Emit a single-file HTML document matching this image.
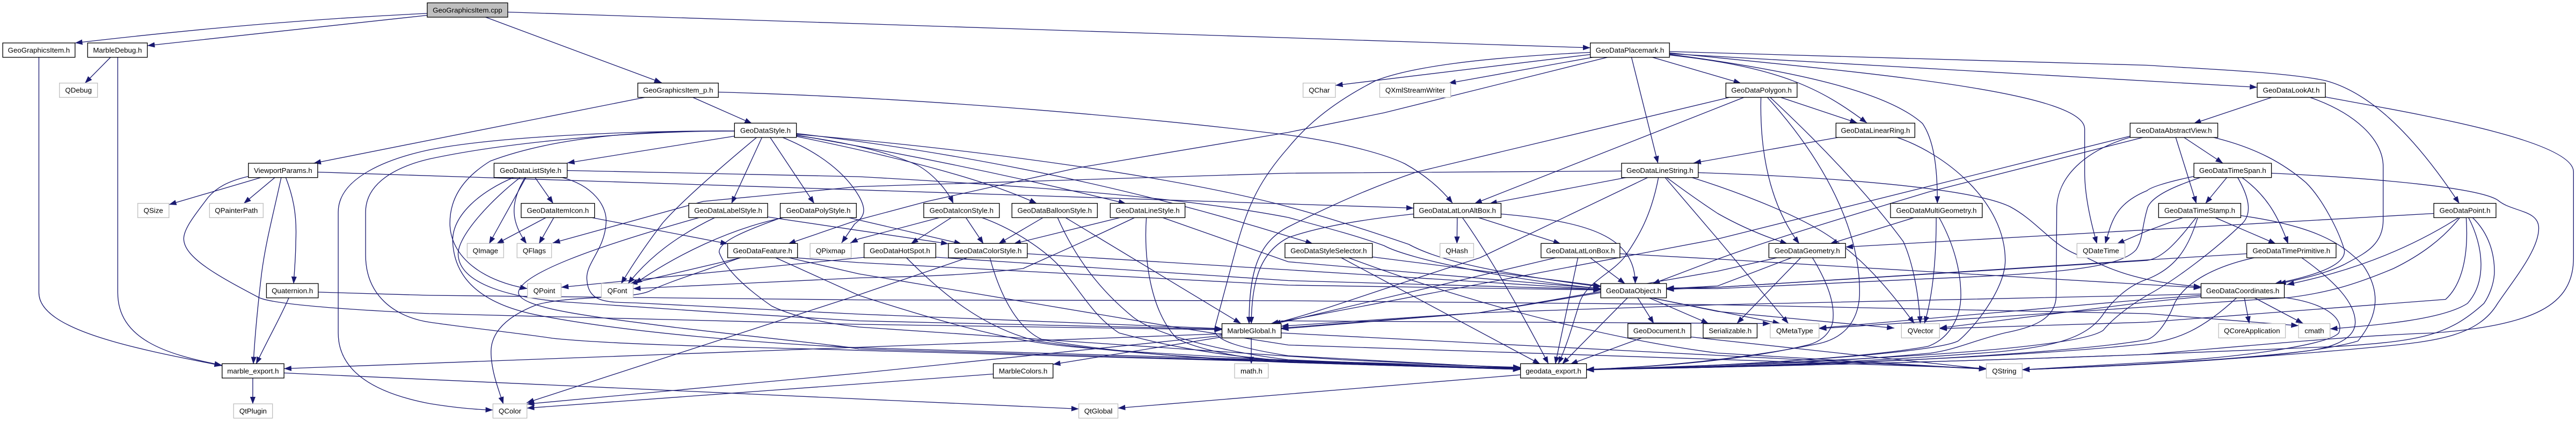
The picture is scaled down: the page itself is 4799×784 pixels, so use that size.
<!DOCTYPE html>
<html><head><meta charset="utf-8"><style>
html,body{margin:0;padding:0;background:#fff}
svg{display:block}
.e path{fill:none;stroke:#191970;stroke-width:2.6}
.n rect{fill:#fff;stroke:#000;stroke-width:2.6}
.n rect.g{stroke:#bfbfbf}
.n rect.c{fill:#bfbfbf}
text{font-family:"Liberation Sans",sans-serif;font-size:13.33px;text-anchor:middle;fill:#000}
</style></head><body>
<svg xmlns="http://www.w3.org/2000/svg" width="4799" height="784" viewBox="0 0 4799 784">
<defs><marker id="a" markerUnits="userSpaceOnUse" markerWidth="30" markerHeight="22" refX="27" refY="10" orient="auto"><polygon points="0,0 27,10 0,20" fill="#191970"/></marker></defs>
<g transform="scale(.5102,.5)">
<g class="e" marker-end="url(#a)" style="marker-end:url(#a)">
<path d="M1560 50C1100 72 700 110 274 160"/>
<path d="M1560 57L538 170"/>
<path d="M1768 62L2416 308"/>
<path d="M1854 45L5807 178"/>
<path d="M2363 361L1145 608"/>
<path d="M2526 361L2746 460"/>
<path d="M2623 343C3400 365 4200 440 4704 503C4900 530 5060 575 5130 610C5200 650 5260 700 5304 757"/>
<path d="M957 660L617 762"/>
<path d="M1005 660L890 758"/>
<path d="M1027 660C1000 790 970 900 955 1020C940 1150 930 1260 925 1356"/>
<path d="M1043 660C1070 730 1085 800 1080 900C1080 950 1076 1000 1072 1057"/>
<path d="M1160 641L5162 775"/>
<path d="M907 657C830 675 790 700 760 735C720 790 670 850 671 890C672 960 800 1030 945 1108C1000 1135 1300 1155 1568 1168L3136 1208L4462 1228"/>
<path d="M1055 1108C1030 1170 980 1260 935 1356"/>
<path d="M1162 1088L1568 1100L3136 1117L4704 1120L6272 1135L7840 1168L8393 1213"/>
<path d="M923 1406V1505"/>
<path d="M1037 1389L3939 1523"/>
<path d="M142 212V1090C142 1230 500 1300 810 1362"/>
<path d="M430 212V1090C430 1260 600 1320 810 1360"/>
<path d="M405 212L310 310"/>
<path d="M4462 1243L1037 1373"/>
<path d="M2682 507L2071 607"/>
<path d="M2783 510L2671 758"/>
<path d="M2811 510L2973 758"/>
<path d="M2765 510C2600 650 2480 760 2420 830C2360 910 2310 985 2268 1057"/>
<path d="M2853 510C3000 570 3090 650 3136 730C3170 790 3150 810 3120 835L3073 905"/>
<path d="M2682 488C2400 486 2050 500 1790 600C1680 670 1640 750 1643 840C1650 970 1780 1050 1926 1075"/>
<path d="M2682 488C2300 486 1800 510 1568 558C1420 590 1235 660 1235 790V1240C1235 1400 1400 1470 1568 1503C1640 1515 1720 1525 1800 1527"/>
<path d="M2682 488C2300 488 1850 530 1568 592C1450 620 1335 680 1335 790V950C1335 1100 1440 1180 1568 1200C1700 1220 1890 1240 2018 1260C2300 1290 3000 1298 3136 1305L5552 1372"/>
<path d="M2908 505C3100 530 3250 570 3350 615C3410 650 3460 710 3481 758"/>
<path d="M2908 508C3300 590 3600 670 3786 758"/>
<path d="M2908 503C3400 590 3800 680 4111 758"/>
<path d="M2908 500C3600 560 4300 660 4704 770C4850 810 5000 860 5144 910C5234 960 5400 1010 5845 1068"/>
<path d="M2908 497C3600 580 4200 720 4704 880L4794 908"/>
<path d="M2071 635L3136 658C3700 690 4300 730 4704 810C4850 850 4960 880 5054 915C5144 965 5500 1040 5845 1075"/>
<path d="M5875 212L5054 420L4704 493L3936 625L3386 750L3136 818L2878 908"/>
<path d="M5921 637L4704 645L3136 695L2568 750L2018 905"/>
<path d="M2803 808L3463 908"/>
<path d="M3088 808L3511 908"/>
<path d="M5807 203L4876 318"/>
<path d="M5824 212L5289 310"/>
<path d="M5807 195C5400 215 5150 250 5024 300C4850 390 4760 480 4704 550C4600 670 4560 760 4520 900L4436 1220C4420 1270 4550 1300 4704 1325L5552 1372"/>
<path d="M5957 212L6054 608"/>
<path d="M6029 212L6357 310"/>
<path d="M6096 205C6500 250 6650 330 6817 458"/>
<path d="M6096 202C6600 270 6900 350 7020 460C7060 520 7075 620 7074 758"/>
<path d="M6096 197C6800 270 7612 340 7612 480V640C7612 730 7635 830 7657 908"/>
<path d="M6096 200L8242 325"/>
<path d="M6096 192L7840 243C8100 260 8350 270 8490 300C8640 340 8800 480 8980 758"/>
<path d="M6497 361L6782 458"/>
<path d="M6430 361C6425 560 6460 760 6570 908"/>
<path d="M6452 361C6700 640 6795 900 6790 1100C6785 1200 6730 1260 6640 1280C6400 1330 6100 1365 5793 1376"/>
<path d="M6462 361C6630 520 6820 720 6950 900C6985 980 7005 1090 7012 1205"/>
<path d="M6322 361L5174 640C5000 700 4850 770 4704 845C4600 900 4560 1000 4561 1207"/>
<path d="M6372 361L5384 758"/>
<path d="M6722 510L6184 607"/>
<path d="M6922 510C7100 570 7322 750 7322 970C7322 1080 7200 1230 7150 1270C7050 1320 6300 1365 5793 1378"/>
<path d="M5944 660L5439 758"/>
<path d="M6019 660L5404 960C5000 1090 4800 1170 4641 1207"/>
<path d="M6056 660C6030 800 5985 880 5930 960C5880 1020 5800 1050 5770 1120C5740 1220 5720 1290 5690 1355"/>
<path d="M6084 660C6150 710 6220 760 6272 795C6350 840 6440 880 6527 908"/>
<path d="M6079 660L6272 890L6530 1205"/>
<path d="M6174 660C6300 700 6550 790 6680 880C6800 960 6900 1080 6990 1205"/>
<path d="M6201 643C6700 660 7200 700 7340 770C7450 830 7500 930 7620 960C7700 1000 7800 1050 8037 1068"/>
<path d="M5321 809L5320 908"/>
<path d="M5394 809L5699 908"/>
<path d="M5339 809C5444 960 5564 1180 5654 1355"/>
<path d="M5481 797C5800 825 5971 880 5971 1057"/>
<path d="M5162 797C4950 820 4800 850 4704 885C4600 940 4570 1050 4569 1207"/>
<path d="M5804 958L5934 1057"/>
<path d="M5762 958L5679 1356"/>
<path d="M5689 958L4704 1195L4650 1206"/>
<path d="M5915 945L6272 965L7840 1060L8037 1072"/>
<path d="M5979 1108L6039 1205"/>
<path d="M6019 1108L6239 1205"/>
<path d="M6024 1108L6500 1205"/>
<path d="M6024 1108L6272 1160L6917 1222"/>
<path d="M5944 1108L5704 1356"/>
<path d="M5845 1090L5400 1165L4678 1215"/>
<path d="M5999 1257L5734 1356"/>
<path d="M6174 1255L7253 1375"/>
<path d="M6497 958L6272 1010L5400 1165L4678 1225"/>
<path d="M6547 958L6272 1065L6085 1075"/>
<path d="M6577 958L6342 1205"/>
<path d="M6617 958C6672 1050 6702 1130 6692 1200C6680 1250 6640 1275 6600 1285C6400 1335 6100 1365 5793 1376"/>
<path d="M6994 809L6682 908"/>
<path d="M7070 809C7070 1000 7052 1120 7027 1205"/>
<path d="M7080 809C7140 920 7160 1020 7160 1100C7160 1180 7120 1260 7040 1290C6800 1335 6200 1370 5793 1376"/>
<path d="M8300 361L8010 460"/>
<path d="M7944 510L8020 758"/>
<path d="M7972 510L8117 608"/>
<path d="M8075 510C8240 550 8340 610 8420 680C8480 740 8540 860 8560 930C8570 990 8440 1030 8305 1057"/>
<path d="M7782 510C7612 560 7510 660 7510 780L7508 1100C7508 1190 7420 1220 7320 1240C7200 1270 7150 1300 7050 1315C6700 1350 6200 1370 5793 1376"/>
<path d="M7778 507L6272 890L4641 1205"/>
<path d="M7832 510L7042 715C6800 790 6500 880 6272 965L6034 1057"/>
<path d="M8430 361C8600 420 8702 520 8702 620V820C8702 920 8620 950 8560 985C8490 1020 8400 1040 8320 1057"/>
<path d="M8490 361C8800 420 9397 520 9397 640V960C9397 1140 9250 1210 8890 1240C8600 1250 8300 1280 7840 1320C7200 1345 6300 1370 5793 1376"/>
<path d="M8132 660L8053 758"/>
<path d="M8185 660C8280 730 8320 810 8355 908"/>
<path d="M8011 657C7900 680 7850 700 7840 710C7720 760 7710 830 7687 908"/>
<path d="M8038 660C7950 690 7850 730 7840 780C7820 850 7825 890 7800 930C7740 1000 7500 1020 7000 1040L6272 1075H6085"/>
<path d="M8170 660C8210 730 8225 790 8190 830C8100 920 7950 1040 7840 1100C7790 1130 7720 1180 7680 1230C7600 1290 7000 1340 5793 1376"/>
<path d="M8294 645C8700 665 9050 700 9120 745C9170 790 9270 780 9270 850C9270 930 9180 1040 9120 1130C9050 1250 8900 1270 8700 1290C8300 1330 7800 1360 7384 1377"/>
<path d="M8085 809L8310 908"/>
<path d="M7975 809L7840 860L7730 908"/>
<path d="M8887 795L6739 920"/>
<path d="M8020 809C7950 900 7900 960 7840 970L6272 1070L6085 1073"/>
<path d="M8025 809C7990 930 7940 1000 7840 1040C7780 1060 7720 1110 7680 1170C7620 1260 7500 1290 7300 1310C6800 1350 6300 1370 5793 1376"/>
<path d="M8182 803C8440 840 8550 900 8630 990C8690 1080 8690 1170 8610 1270C8400 1335 7800 1360 7384 1377"/>
<path d="M8204 945L7840 968L6272 1070L6085 1078"/>
<path d="M8240 958C8090 990 7980 1050 7940 1130C7910 1210 7870 1255 7840 1265C7600 1310 6800 1365 5793 1376"/>
<path d="M8402 958C8530 1050 8600 1130 8600 1200C8600 1270 8500 1300 8400 1310C8100 1345 7700 1365 7384 1377"/>
<path d="M8195 1108L8213 1205"/>
<path d="M8230 1108L8410 1205"/>
<path d="M8168 1108C8040 1230 7950 1265 7840 1280C7400 1330 6500 1365 5793 1376"/>
<path d="M8340 1108C8500 1130 8560 1190 8540 1240C8500 1290 8100 1340 7840 1350L7384 1377"/>
<path d="M8037 1095L7840 1100L6272 1135L5400 1165L4678 1222"/>
<path d="M8037 1100L7840 1115L6642 1222"/>
<path d="M8037 1105L7840 1125L7082 1222"/>
<path d="M8980 809C8840 900 8640 1000 8350 1060"/>
<path d="M8983 809C8920 890 8840 950 8740 1000C8600 1060 8500 1090 8360 1108L7840 1143L6642 1224"/>
<path d="M9013 809C9070 920 9080 1050 9010 1130C8920 1190 8690 1210 8508 1225"/>
<path d="M9005 809C9015 950 8990 1060 8930 1115L7840 1200L7082 1224"/>
<path d="M9027 809C9090 870 9110 950 9108 1020C9105 1060 9090 1100 9070 1130C8940 1250 8840 1270 8540 1290L7840 1320C7200 1345 6300 1370 5793 1376"/>
<path d="M4894 958L5624 1356"/>
<path d="M4919 958C5500 1180 6000 1280 6272 1315L7253 1375"/>
<path d="M5011 957L5845 1065"/>
<path d="M2713 958L2300 1057"/>
<path d="M2708 958C2540 1020 2440 1050 2370 1085C2300 1115 2080 1100 1960 1135C1820 1190 1793 1260 1793 1310C1793 1380 1820 1450 1838 1505"/>
<path d="M2878 958L3136 978L4704 1062L5845 1080"/>
<path d="M2828 958L3136 1100C3500 1220 3700 1270 3900 1290C4200 1320 5000 1360 5552 1374"/>
<path d="M2873 958L3136 1020L4300 1220L4704 1285L7253 1372"/>
<path d="M1996 809L1813 908"/>
<path d="M2023 809L1968 908"/>
<path d="M2153 809L2658 908"/>
<path d="M1921 660L1786 908"/>
<path d="M1918 660C1858 760 1868 830 1923 908"/>
<path d="M1953 660L2020 758"/>
<path d="M1878 660C1758 710 1650 800 1653 900C1660 1060 1790 1140 1970 1175C2300 1240 2800 1280 3136 1295L5552 1368"/>
<path d="M1901 660C1798 740 1668 880 1673 950C1680 1060 1870 1110 2068 1125C2400 1150 2800 1175 3136 1195L4462 1226"/>
<path d="M2048 660C2168 690 2218 770 2213 830C2208 930 2138 980 2143 1040C2148 1130 2218 1125 2318 1128L3136 1170L4462 1224"/>
<path d="M2613 809C2468 880 2368 960 2293 1057"/>
<path d="M2558 809C2170 920 1898 1020 1893 1090C1898 1150 2170 1180 2470 1220C2800 1260 3100 1290 3136 1300L5552 1372"/>
<path d="M2868 809C2668 850 2468 950 2318 1057"/>
<path d="M2858 809C2718 860 2623 900 2626 940C2648 1000 2718 1070 2818 1140C2918 1190 3068 1210 3136 1218L4900 1340L5552 1370"/>
<path d="M3476 809L3326 908"/>
<path d="M3526 809L3591 908"/>
<path d="M3436 809L3136 890L3105 905"/>
<path d="M3581 809C3696 850 3816 930 3876 1000C3956 1100 3996 1180 4086 1240C4336 1310 4536 1330 4704 1345L5552 1374"/>
<path d="M3811 809L3646 908"/>
<path d="M3888 809L4531 1205"/>
<path d="M3861 809C3926 960 4016 1080 4136 1180C4236 1260 4536 1320 4704 1340L5552 1376"/>
<path d="M4096 809L3701 908"/>
<path d="M4146 809C3960 900 3800 970 3736 1000C3500 1030 3300 1030 3136 1035L2312 1075"/>
<path d="M3160 958L2049 1070"/>
<path d="M4186 809C4176 950 4196 1150 4296 1260C4386 1310 4586 1340 4704 1350L5552 1376"/>
<path d="M4241 809L4704 975L5845 1075"/>
<path d="M3538 958L3136 1098L1923 1500"/>
<path d="M3614 958C3646 1080 3706 1220 3806 1265C4036 1310 4436 1340 4704 1350L5552 1376"/>
<path d="M3751 945L4704 1005L5845 1078"/>
<path d="M3308 958C3436 1090 3586 1220 3786 1270C4036 1310 4436 1340 4704 1345L5552 1374"/>
<path d="M3417 958L4704 1045L5845 1078"/>
<path d="M4569 1257V1356"/>
<path d="M4462 1255L3845 1357"/>
<path d="M4462 1250L3136 1390L1924 1505"/>
<path d="M3627 1393L3136 1430L1924 1520"/>
<path d="M5552 1396L4082 1520"/>
<path d="M4678 1240L7253 1375"/>
<path d="M4678 1195L6464 1205"/>
</g>
<g class="n">
<rect class="c" x="1560" y="10.67" width="294" height="53.33"/>
<rect x="10" y="160" width="264" height="53.33"/><rect x="320" y="160" width="218" height="53.33"/><rect x="5807" y="160" width="289" height="53.33"/>
<rect class="g" x="217" y="309.33" width="139" height="53.33"/><rect x="2329" y="309.33" width="294" height="53.33"/><rect class="g" x="4758" y="309.33" width="118" height="53.33"/><rect class="g" x="5038" y="309.33" width="259" height="53.33"/><rect x="6302" y="309.33" width="260" height="53.33"/><rect x="8242" y="309.33" width="249" height="53.33"/>
<rect x="2682" y="458.67" width="226" height="53.33"/><rect x="6704" y="458.67" width="288" height="53.33"/><rect x="7778" y="458.67" width="320" height="53.33"/>
<rect x="907" y="608" width="253" height="53.33"/><rect x="1804" y="608" width="267" height="53.33"/><rect x="5921" y="608" width="280" height="53.33"/><rect x="8011" y="608" width="283" height="53.33"/>
<rect class="g" x="503" y="757.33" width="114" height="53.33"/><rect class="g" x="765" y="757.33" width="196" height="53.33"/><rect x="1903" y="757.33" width="268" height="53.33"/><rect x="2515" y="757.33" width="288" height="53.33"/><rect x="2849" y="757.33" width="278" height="53.33"/><rect x="3373" y="757.33" width="276" height="53.33"/><rect x="3695" y="757.33" width="312" height="53.33"/><rect x="4054" y="757.33" width="273" height="53.33"/><rect x="5162" y="757.33" width="319" height="53.33"/><rect x="6903" y="757.33" width="335" height="53.33"/><rect x="7882" y="757.33" width="300" height="53.33"/><rect x="8887" y="757.33" width="227" height="53.33"/>
<rect class="g" x="1706" y="906.67" width="133" height="53.33"/><rect class="g" x="1888" y="906.67" width="126" height="53.33"/><rect x="2657" y="906.67" width="255" height="53.33"/><rect class="g" x="2958" y="906.67" width="150" height="53.33"/><rect x="3155" y="906.67" width="262" height="53.33"/><rect x="3463" y="906.67" width="288" height="53.33"/><rect x="4692" y="906.67" width="319" height="53.33"/><rect class="g" x="5258" y="906.67" width="123" height="53.33"/><rect x="5627" y="906.67" width="288" height="53.33"/><rect x="6459" y="906.67" width="280" height="53.33"/><rect class="g" x="7584" y="906.67" width="175" height="53.33"/><rect x="8204" y="906.67" width="326" height="53.33"/>
<rect x="973" y="1056" width="189" height="53.33"/><rect class="g" x="1926" y="1056" width="123" height="53.33"/><rect class="g" x="2196" y="1056" width="116" height="53.33"/><rect x="5845" y="1056" width="240" height="53.33"/><rect x="8037" y="1056" width="304" height="53.33"/>
<rect x="4462" y="1205.33" width="216" height="53.33"/><rect x="5944" y="1205.33" width="230" height="53.33"/><rect x="6219" y="1205.33" width="197" height="53.33"/><rect class="g" x="6464" y="1205.33" width="178" height="53.33"/><rect class="g" x="6943" y="1205.33" width="139" height="53.33"/><rect class="g" x="8101" y="1205.33" width="244" height="53.33"/><rect class="g" x="8393" y="1205.33" width="115" height="53.33"/>
<rect x="811" y="1354.67" width="226" height="53.33"/><rect x="3627" y="1354.67" width="218" height="53.33"/><rect class="g" x="4508" y="1354.67" width="123" height="53.33"/><rect x="5552" y="1354.67" width="241" height="53.33"/><rect class="g" x="7253" y="1354.67" width="131" height="53.33"/>
<rect class="g" x="853" y="1504" width="142" height="53.33"/><rect class="g" x="1800" y="1504" width="124" height="53.33"/><rect class="g" x="3939" y="1504" width="143" height="53.33"/>
</g>
</g>
<g>
<text x="870.9" y="23.3">GeoGraphicsItem.cpp</text>
<text x="72.4" y="98">GeoGraphicsItem.h</text><text x="218.9" y="98">MarbleDebug.h</text><text x="3036.5" y="98">GeoDataPlacemark.h</text>
<text x="146.2" y="172.7">QDebug</text><text x="1263.3" y="172.7">GeoGraphicsItem_p.h</text><text x="2457.7" y="172.7">QChar</text><text x="2636.5" y="172.7">QXmlStreamWriter</text><text x="3281.6" y="172.7">GeoDataPolygon.h</text><text x="4268.6" y="172.7">GeoDataLookAt.h</text>
<text x="1426" y="247.3">GeoDataStyle.h</text><text x="3493.9" y="247.3">GeoDataLinearRing.h</text><text x="4050" y="247.3">GeoDataAbstractView.h</text>
<text x="527.3" y="322">ViewportParams.h</text><text x="988.5" y="322">GeoDataListStyle.h</text><text x="3092.3" y="322">GeoDataLineString.h</text><text x="4159.4" y="322">GeoDataTimeSpan.h</text>
<text x="285.7" y="396.7">QSize</text><text x="440.3" y="396.7">QPainterPath</text><text x="1039.3" y="396.7">GeoDataItemIcon.h</text><text x="1356.6" y="396.7">GeoDataLabelStyle.h</text><text x="1524.5" y="396.7">GeoDataPolyStyle.h</text><text x="1791.3" y="396.7">GeoDataIconStyle.h</text><text x="1964.8" y="396.7">GeoDataBalloonStyle.h</text><text x="2138" y="396.7">GeoDataLineStyle.h</text><text x="2715.1" y="396.7">GeoDataLatLonAltBox.h</text><text x="3607.4" y="396.7">GeoDataMultiGeometry.h</text><text x="4098" y="396.7">GeoDataTimeStamp.h</text><text x="4592.1" y="396.7">GeoDataPoint.h</text>
<text x="904.3" y="471.3">QImage</text><text x="995.4" y="471.3">QFlags</text><text x="1420.7" y="471.3">GeoDataFeature.h</text><text x="1547.4" y="471.3">QPixmap</text><text x="1676.5" y="471.3">GeoDataHotSpot.h</text><text x="1840.3" y="471.3">GeoDataColorStyle.h</text><text x="2475.3" y="471.3">GeoDataStyleSelector.h</text><text x="2714" y="471.3">QHash</text><text x="2944.4" y="471.3">GeoDataLatLonBox.h</text><text x="3366.8" y="471.3">GeoDataGeometry.h</text><text x="3914" y="471.3">QDateTime</text><text x="4268.9" y="471.3">GeoDataTimePrimitive.h</text>
<text x="544.6" y="546">Quaternion.h</text><text x="1014" y="546">QPoint</text><text x="1150" y="546">QFont</text><text x="3043.4" y="546">GeoDataObject.h</text><text x="4178.1" y="546">GeoDataCoordinates.h</text>
<text x="2331.6" y="620.7">MarbleGlobal.h</text><text x="3091.3" y="620.7">GeoDocument.h</text><text x="3223.2" y="620.7">Serializable.h</text><text x="3343.4" y="620.7">QMetaType</text><text x="3577.8" y="620.7">QVector</text><text x="4195.4" y="620.7">QCoreApplication</text><text x="4311.5" y="620.7">cmath</text>
<text x="471.4" y="695.3">marble_export.h</text><text x="1906.1" y="695.3">MarbleColors.h</text><text x="2331.4" y="695.3">math.h</text><text x="2894.1" y="695.3">geodata_export.h</text><text x="3733.9" y="695.3">QString</text>
<text x="471.4" y="770">QtPlugin</text><text x="950" y="770">QColor</text><text x="2046.2" y="770">QtGlobal</text>
</g>
</svg>
</body></html>
